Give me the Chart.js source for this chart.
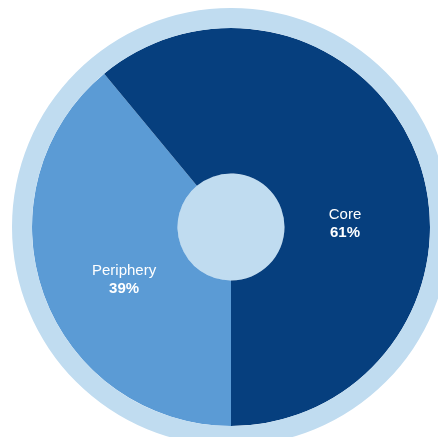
<!DOCTYPE html>
<html>
<head>
<meta charset="utf-8">
<script src="https://cdn.jsdelivr.net/npm/chart.js@4"></script>
<style>
    html, body { margin: 0; padding: 0; background: #fff; overflow: hidden; }
    #wrap { width: 462px; height: 454px; }
</style>
</head>
<body>
<div id="wrap"><canvas id="pieChart" width="462" height="454"></canvas></div>
<script>
const categories = ['Periphery', 'Core'];
const shares = [39, 61];
const shareLabels = ['39%', '61%'];

const sliceColors = ['#5b9bd5', '#063f7e'];
const paleBlue = '#c0dcf0';

// text inside each slice: angle (deg, clockwise from top) and distance as share of radius
const labelSpots = [
    { angle: 243.6, dist: 0.6 },
    { angle: 88.5, dist: 0.573 }
];

const sliceLabels = {
    id: 'sliceLabels',
    afterDatasetsDraw(chart) {
        const ctx = chart.ctx;
        const meta = chart.getDatasetMeta(1);
        meta.data.forEach((arc, i) => {
            const spot = labelSpots[i];
            const a = (spot.angle - 90) * Math.PI / 180;
            const x = arc.x + Math.cos(a) * arc.outerRadius * spot.dist;
            const y = arc.y + Math.sin(a) * arc.outerRadius * spot.dist;
            ctx.save();
            ctx.fillStyle = '#ffffff';
            ctx.textAlign = 'center';
            ctx.textBaseline = 'middle';
            ctx.font = '15px "Liberation Sans", Arial, sans-serif';
            ctx.fillText(categories[i], x, y - 9);
            ctx.font = 'bold 15px "Liberation Sans", Arial, sans-serif';
            ctx.fillText(shareLabels[i], x, y + 9);
            ctx.restore();
        });
    }
};

const ctx = document.getElementById('pieChart').getContext('2d');
new Chart(ctx, {
    type: 'doughnut',
    data: {
        labels: categories,
        datasets: [
            {
                data: [100],
                backgroundColor: [paleBlue],
                borderWidth: 0,
                weight: 20
            },
            {
                data: shares,
                backgroundColor: sliceColors,
                borderWidth: 0,
                weight: 145.5
            },
            {
                data: [100],
                backgroundColor: [paleBlue],
                borderWidth: 0,
                weight: 53.5
            }
        ]
    },
    options: {
        responsive: false,
        animation: false,
        cutout: 0,
        rotation: 180,
        layout: { padding: 8 },
        plugins: {
            legend: { display: false },
            tooltip: { enabled: false }
        }
    },
    plugins: [sliceLabels]
});
</script>
</body>
</html>
